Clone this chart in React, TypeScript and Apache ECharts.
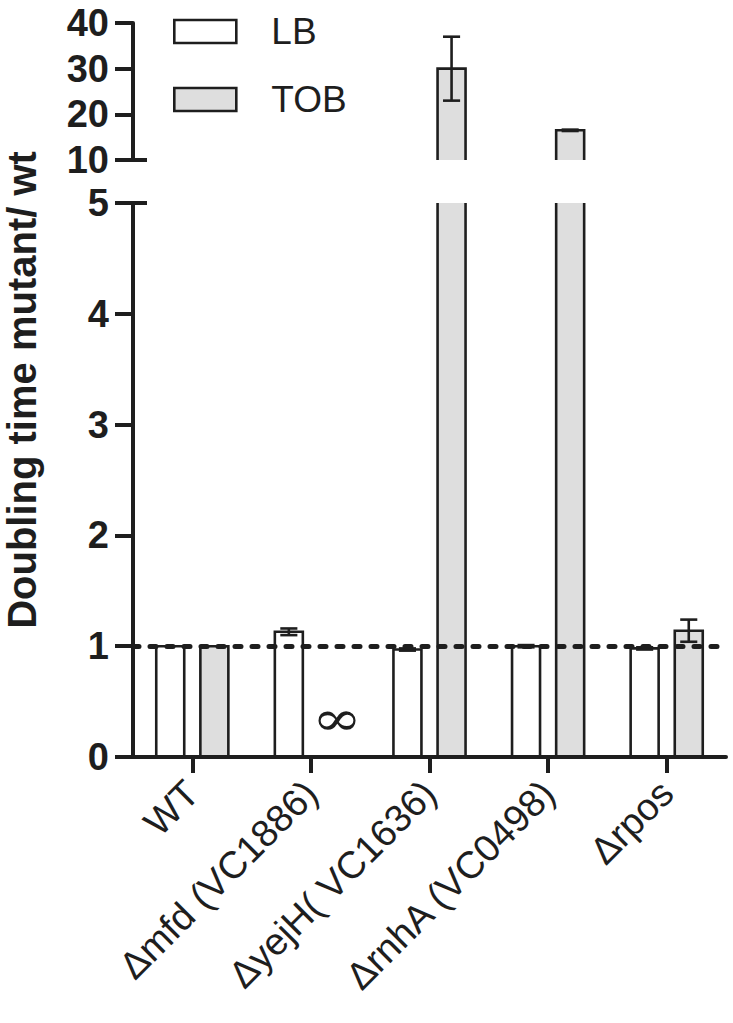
import React, { useEffect, useRef } from "react";
import * as echarts from "echarts";

// ---------- data ----------
const categories = ["WT", "Δmfd (VC1886)", "ΔyejH( VC1636)", "ΔrnhA (VC0498)", "Δrpos"];
const lbValues = [1.0, 1.13, 0.97, 1.0, 0.98];
const lbErrors = [0.0, 0.03, 0.01, 0.01, 0.01];
const tobValues: (number | null)[] = [1.0, null, 30.0, 16.5, 1.14];
const tobErrors = [0.0, 0.0, 7.0, 0.15, 0.1];
const infinityCategories = [1]; // TOB growth never reached: shown as ∞
const infinityLevel = 0.35;
const referenceLevel = 1;
const lowerAxis = { min: 0, max: 5, interval: 1 };
const upperAxis = { min: 10, max: 40, interval: 10 };
const seriesNames = ["LB", "TOB"];

// ---------- layout / style ----------
const W = 733;
const H = 1023;
const GRID_LEFT = 133;
const GRID_RIGHT_EDGE = 726;
const UPPER_TOP = 23;
const UPPER_BOTTOM = 160;
const LOWER_TOP = 203;
const AXIS_Y = 757;
const OFFSET_FRAC = 0.186;
const WIDTH_FRAC = 0.236;
const CAP_FRAC = 0.072;
const INK = "#1e1e1e";
const FONT = '"Liberation Sans", Arial, Helvetica, sans-serif';
const FILLS = ["#ffffff", "#dedede"];

function barRenderer(side: number, fill: string, yMin: number, yMax: number) {
  return (params: any, api: any) => {
    const cat = api.value(0);
    const v = api.value(1);
    if (v == null || isNaN(v) || v <= yMin) return null;
    const band = api.size([1, 0])[0];
    const base = api.coord([cat, yMin]);
    const cx = base[0] + side * band * OFFSET_FRAC;
    const w = band * WIDTH_FRAC;
    const yb = base[1];
    const clipped = v > yMax;
    const yt = api.coord([cat, Math.min(v, yMax)])[1];
    const x0 = cx - w / 2;
    const x1 = cx + w / 2;
    const stroke = { fill: null, stroke: INK, lineWidth: 2.6 };
    const children: any[] = [
      { type: "rect", shape: { x: x0, y: yt, width: w, height: yb - yt }, style: { fill } },
    ];
    if (clipped) {
      children.push({ type: "polyline", shape: { points: [[x0, yb], [x0, yt]] }, style: stroke });
      children.push({ type: "polyline", shape: { points: [[x1, yb], [x1, yt]] }, style: stroke });
    } else {
      children.push({
        type: "polyline",
        shape: { points: [[x0, yb], [x0, yt], [x1, yt], [x1, yb]] },
        style: stroke,
      });
    }
    return { type: "group", children };
  };
}

function errRenderer(side: number, yMin: number, yMax: number) {
  return (params: any, api: any) => {
    const cat = api.value(0);
    const mean = api.value(1);
    const lo = api.value(2);
    const hi = api.value(3);
    if (isNaN(mean) || hi - lo <= 0) return null;
    if (mean < yMin || mean > yMax) return null;
    const band = api.size([1, 0])[0];
    const pLo = api.coord([cat, lo]);
    const pHi = api.coord([cat, hi]);
    const cx = pLo[0] + side * band * OFFSET_FRAC;
    const c = band * CAP_FRAC;
    const st = { stroke: INK, lineWidth: 2.6 };
    return {
      type: "group",
      children: [
        { type: "line", shape: { x1: cx, y1: pLo[1], x2: cx, y2: pHi[1] }, style: st },
        { type: "line", shape: { x1: cx - c, y1: pLo[1], x2: cx + c, y2: pLo[1] }, style: st },
        { type: "line", shape: { x1: cx - c, y1: pHi[1], x2: cx + c, y2: pHi[1] }, style: st },
      ],
    };
  };
}

function infinityRenderer(side: number) {
  return (params: any, api: any) => {
    const cat = api.value(0);
    const y = api.value(1);
    const band = api.size([1, 0])[0];
    const p = api.coord([cat, y]);
    return {
      type: "text",
      x: p[0] + side * band * OFFSET_FRAC + 4,
      y: p[1],
      scaleX: 1.25,
      style: {
        text: "∞",
        font: `normal 48px "DejaVu Serif", serif`,
        fill: INK,
        align: "center",
        verticalAlign: "middle",
        textAlign: "center",
        textVerticalAlign: "middle",
      },
    };
  };
}

export default function App() {
  const ref = useRef<HTMLDivElement>(null);

  useEffect(() => {
    if (!ref.current) return;
    const chart = echarts.init(ref.current, null, { renderer: "svg" });

    const lbData = categories.map((_, i) => [i, lbValues[i]]);
    const tobData = categories
      .map((_, i) => [i, tobValues[i]])
      .filter((d) => d[1] != null);
    const lbErr = categories.map((_, i) => [i, lbValues[i], lbValues[i] - lbErrors[i], lbValues[i] + lbErrors[i]]);
    const tobErr = categories
      .map((_, i) =>
        tobValues[i] == null
          ? null
          : [i, tobValues[i] as number, (tobValues[i] as number) - tobErrors[i], (tobValues[i] as number) + tobErrors[i]]
      )
      .filter((d) => d != null) as number[][];

    const gridW = GRID_RIGHT_EDGE - GRID_LEFT;
    const yAxisCommon = {
      type: "value",
      axisLine: { show: true, lineStyle: { color: INK, width: 4 } },
      axisTick: { show: true, length: 18, lineStyle: { color: INK, width: 4 } },
      splitLine: { show: false },
      axisLabel: { fontSize: 38, fontWeight: "bold", color: INK, fontFamily: FONT, margin: 24 },
      z: 5,
    };

    const axes = [
      { grid: 0, yMin: upperAxis.min, yMax: upperAxis.max },
      { grid: 1, yMin: lowerAxis.min, yMax: lowerAxis.max },
    ];

    const series: any[] = [];
    axes.forEach((a) => {
      [lbData, tobData].forEach((data, s) => {
        series.push({
          type: "custom",
          name: seriesNames[s],
          xAxisIndex: a.grid,
          yAxisIndex: a.grid,
          data,
          encode: { x: 0, y: 1 },
          renderItem: barRenderer(s === 0 ? -1 : 1, FILLS[s], a.yMin, a.yMax),
          z: 2,
          silent: true,
        });
      });
      [lbErr, tobErr].forEach((data, s) => {
        series.push({
          type: "custom",
          name: seriesNames[s] + " SEM",
          xAxisIndex: a.grid,
          yAxisIndex: a.grid,
          data,
          encode: { x: 0, y: 1 },
          renderItem: errRenderer(s === 0 ? -1 : 1, a.yMin, a.yMax),
          z: 3,
          silent: true,
        });
      });
    });
    series.push({
      type: "custom",
      name: "∞",
      xAxisIndex: 1,
      yAxisIndex: 1,
      data: infinityCategories.map((c) => [c, infinityLevel]),
      encode: { x: 0, y: 1 },
      renderItem: infinityRenderer(1),
      z: 3,
      silent: true,
    });
    series.push({
      type: "line",
      name: "reference",
      xAxisIndex: 1,
      yAxisIndex: 1,
      data: [],
      showSymbol: false,
      z: 4,
      markLine: {
        silent: true,
        symbol: "none",
        label: { show: false },
        lineStyle: { type: [6, 11], width: 5, color: INK, cap: "round" },
        data: [{ yAxis: referenceLevel }],
      },
    });

    chart.setOption({
      animation: false,
      backgroundColor: "#ffffff",
      legend: {
        orient: "vertical",
        left: 168,
        top: 8,
        itemWidth: 62,
        itemHeight: 23,
        itemGap: 31,
        selectedMode: false,
        textStyle: { fontSize: 37, color: INK, fontFamily: FONT, padding: [0, 0, 0, 30] },
        data: [
          { name: "LB", icon: "rect", itemStyle: { color: FILLS[0], borderColor: INK, borderWidth: 2.6 } },
          { name: "TOB", icon: "rect", itemStyle: { color: FILLS[1], borderColor: INK, borderWidth: 2.6 } },
        ],
      },
      grid: [
        { left: GRID_LEFT, top: UPPER_TOP, width: gridW, height: UPPER_BOTTOM - UPPER_TOP },
        { left: GRID_LEFT, top: LOWER_TOP, width: gridW, height: AXIS_Y - LOWER_TOP },
      ],
      xAxis: [
        {
          type: "category",
          gridIndex: 0,
          data: categories,
          show: false,
        },
        {
          type: "category",
          gridIndex: 1,
          data: categories,
          z: 5,
          axisLine: { show: true, lineStyle: { color: INK, width: 4 } },
          axisTick: { show: true, alignWithLabel: true, length: 16, lineStyle: { color: INK, width: 4 } },
          axisLabel: {
            rotate: 45,
            interval: 0,
            fontSize: 38,
            color: INK,
            fontFamily: FONT,
            margin: 30,
          },
        },
      ],
      yAxis: [
        { ...yAxisCommon, gridIndex: 0, min: upperAxis.min, max: upperAxis.max, interval: upperAxis.interval },
        { ...yAxisCommon, gridIndex: 1, min: lowerAxis.min, max: lowerAxis.max, interval: lowerAxis.interval },
      ],
      graphic: [
        {
          type: "text",
          x: 22,
          y: 390,
          rotation: Math.PI / 2,
          style: {
            text: "Doubling time mutant/ wt",
            font: `bold 40px ${FONT}`,
            fill: INK,
            align: "center",
            verticalAlign: "middle",
            textAlign: "center",
            textVerticalAlign: "middle",
          },
        },
        {
          type: "line",
          shape: { x1: GRID_LEFT - 18, y1: UPPER_BOTTOM, x2: GRID_LEFT + 14, y2: UPPER_BOTTOM },
          style: { stroke: INK, lineWidth: 4 },
          z: 10,
        },
        {
          type: "line",
          shape: { x1: GRID_LEFT - 18, y1: LOWER_TOP, x2: GRID_LEFT + 14, y2: LOWER_TOP },
          style: { stroke: INK, lineWidth: 4 },
          z: 10,
        },
        {
          type: "line",
          shape: { x1: GRID_LEFT - 18, y1: AXIS_Y, x2: GRID_LEFT, y2: AXIS_Y },
          style: { stroke: INK, lineWidth: 4 },
          z: 10,
        },
      ],
      series,
    });

    return () => chart.dispose();
  }, []);

  return (
    <div
      ref={ref}
      style={{ position: "fixed", left: 0, top: 0, width: W, height: H, background: "#fff" }}
    />
  );
}
